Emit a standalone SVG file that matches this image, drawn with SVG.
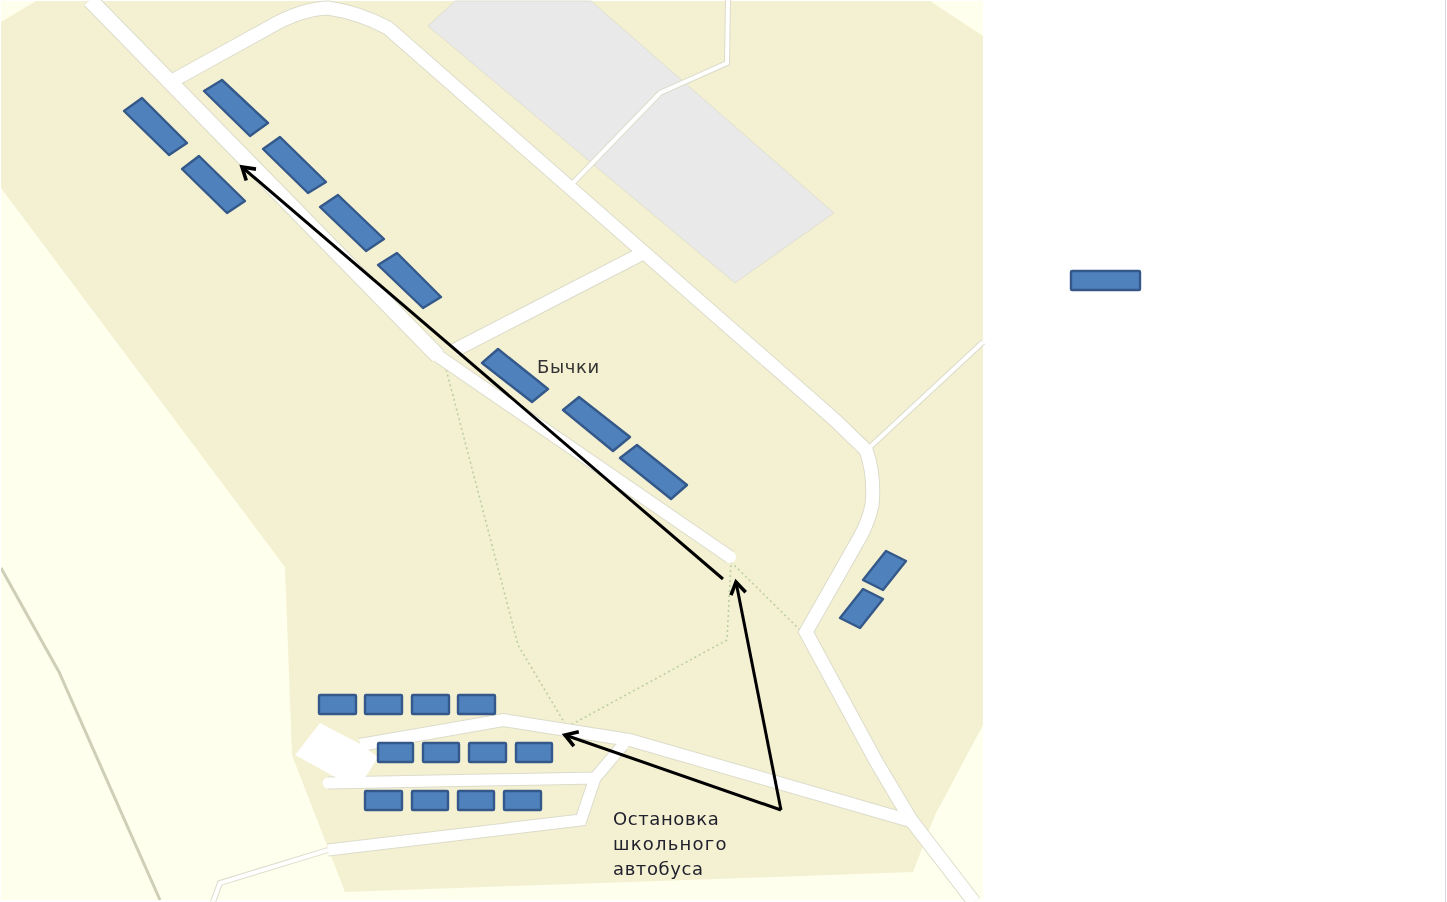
<svg xmlns="http://www.w3.org/2000/svg" width="1447" height="902" viewBox="0 0 1447 902">
<defs>
<marker id="open" markerUnits="userSpaceOnUse" markerWidth="24" markerHeight="24" refX="18" refY="12" orient="auto">
<path d="M6 4.5 L18 12 L6 19.5" fill="none" stroke="#000" stroke-width="3.6"/>
</marker>
<filter id="soft" x="0" y="0" width="100%" height="100%"><feGaussianBlur stdDeviation="0.6"/></filter>
<path id="rB" d="M172 81 L268 28 Q300 9 328 8 Q360 13 388 28 L835 420 L866 450 Q875 475 872 505 Q868 523 860 537 L806 632 L877 763 L911 820 L974 902"/>
<path id="rA" d="M90 0 L438 356"/>
<path id="rA2" d="M438 356 L730 557"/>
<path id="rC" d="M455 350 L645 252"/>
<path id="rD" d="M870 447 L983 342"/>
<path id="rE" d="M914 822 L630 740 L503 720 L360 745"/>
<path id="rF" d="M623 745 L595 778 L328 783"/>
<path id="rG" d="M595 778 L581 820 L328 850"/>
<path id="rH" d="M328 850 L220 883 L213 902"/>
<path id="rI" d="M572 184 L660 93 L727 63 L728 0"/>
</defs>
<style>
.case{fill:none;stroke:#dcdccb}
.road{fill:none;stroke:#fff}
.b{fill:#4f81bd;stroke:#34598a;stroke-width:2.4;stroke-linejoin:round}
.dot{fill:none;stroke:#bccfa3;stroke-width:1.6;stroke-dasharray:2 3}
.arrow{fill:none;stroke:#000;stroke-width:3;marker-end:url(#open)}
text{font-family:"DejaVu Sans","Liberation Sans",sans-serif;font-size:18px;letter-spacing:.6px;fill:#333}
.dark{fill:#22222e}
</style>
<rect width="1447" height="902" fill="#fff"/>
<g filter="url(#soft)">
<g id="map">
<rect x="1" y="1" width="982" height="899" fill="#feffec"/>
<polygon points="1,22 36,1 930,1 983,36 983,725 935,815 913,872 345,892 292,755 285,567 1,188" fill="#f4f0d2"/>
<polygon points="428,26 455,1 591,1 834,213 735,283" fill="#e9e9e9" stroke="#dfdfd0"/>
<path d="M1 568 L59 672 L160 900" fill="none" stroke="#cfcfb8" stroke-width="3"/>
<line x1="1445.5" y1="0" x2="1445.5" y2="902" stroke="#d3d7e3"/>
</g>
<g id="paths">
<path class="dot" d="M445 365 L518 645 L567 727 L727 640 L731 562 L800 630"/>
</g>
<g id="roads">
<g class="case">
<use href="#rA" stroke-width="17"/>
<use href="#rA2" stroke-width="14"/>
<use href="#rB" stroke-width="15"/>
<use href="#rC" stroke-width="15"/>
<use href="#rD" stroke-width="6"/>
<use href="#rE" stroke-width="14"/>
<use href="#rF" stroke-width="13"/>
<use href="#rG" stroke-width="13"/>
<use href="#rH" stroke-width="6"/>
<use href="#rI" stroke-width="6"/>
</g>
<g class="road">
<use href="#rA" stroke-width="15"/>
<use href="#rA2" stroke-width="12" stroke-linecap="round"/>
<use href="#rB" stroke-width="13"/>
<use href="#rC" stroke-width="13"/>
<use href="#rD" stroke-width="4"/>
<use href="#rE" stroke-width="12"/>
<use href="#rF" stroke-width="11" stroke-linecap="round"/>
<use href="#rG" stroke-width="11"/>
<use href="#rH" stroke-width="4"/>
<use href="#rI" stroke-width="4"/>
</g>
<polygon points="320,723 295,755 337,778 365,778 378,757 360,744" fill="#fff"/>
</g>
<g id="node-b1"><polygon class="b" points="204,91 222,80 268,123 250,136"/></g>
<g id="node-b2"><polygon class="b" points="263,149 280,137 326,182 308,193"/></g>
<g id="node-b3"><polygon class="b" points="320,207 338,195 384,239 366,251"/></g>
<g id="node-b4"><polygon class="b" points="378,265 397,253 441,297 423,308"/></g>
<g id="node-b5"><polygon class="b" points="124,111 142,98 187,143 169,155"/></g>
<g id="node-b6"><polygon class="b" points="182,169 199,156 245,201 227,213"/></g>
<g id="node-b7"><polygon class="b" points="482,363 498,349 548,389 532,402"/></g>
<g id="node-b8"><polygon class="b" points="563,410 579,397 630,437 613,451"/></g>
<g id="node-b9"><polygon class="b" points="620,458 637,445 687,485 671,499"/></g>
<g id="node-b10"><polygon class="b" points="863,580 886,551 906,561 883,590"/></g>
<g id="node-b11"><polygon class="b" points="840,618 863,589 883,599 860,628"/></g>
<g id="node-r1"><rect class="b" x="319" y="695" width="37" height="19" rx="1"/></g>
<g id="node-r2"><rect class="b" x="365" y="695" width="37" height="19" rx="1"/></g>
<g id="node-r3"><rect class="b" x="412" y="695" width="37" height="19" rx="1"/></g>
<g id="node-r4"><rect class="b" x="458" y="695" width="37" height="19" rx="1"/></g>
<g id="node-r5"><rect class="b" x="378" y="743" width="35" height="19" rx="1"/></g>
<g id="node-r6"><rect class="b" x="423" y="743" width="36" height="19" rx="1"/></g>
<g id="node-r7"><rect class="b" x="469" y="743" width="37" height="19" rx="1"/></g>
<g id="node-r8"><rect class="b" x="516" y="743" width="36" height="19" rx="1"/></g>
<g id="node-r9"><rect class="b" x="365" y="791" width="37" height="19" rx="1"/></g>
<g id="node-r10"><rect class="b" x="412" y="791" width="36" height="19" rx="1"/></g>
<g id="node-r11"><rect class="b" x="458" y="791" width="36" height="19" rx="1"/></g>
<g id="node-r12"><rect class="b" x="504" y="791" width="37" height="19" rx="1"/></g>
<g id="node-legend"><rect class="b" x="1071" y="271" width="69" height="19" rx="1"/></g>
<g id="connectors">
<path class="arrow" d="M723 579 L242 167"/>
<path class="arrow" d="M781 810 L736 582"/>
<path class="arrow" d="M781 810 L565 735"/>
</g>
<g id="labels">
<text x="537" y="373">Бычки</text>
<text class="dark" x="613" y="825">Остановка</text>
<text class="dark" x="613" y="850" textLength="114">школьного</text>
<text class="dark" x="613" y="875">автобуса</text>
</g>
</g>
</svg>
